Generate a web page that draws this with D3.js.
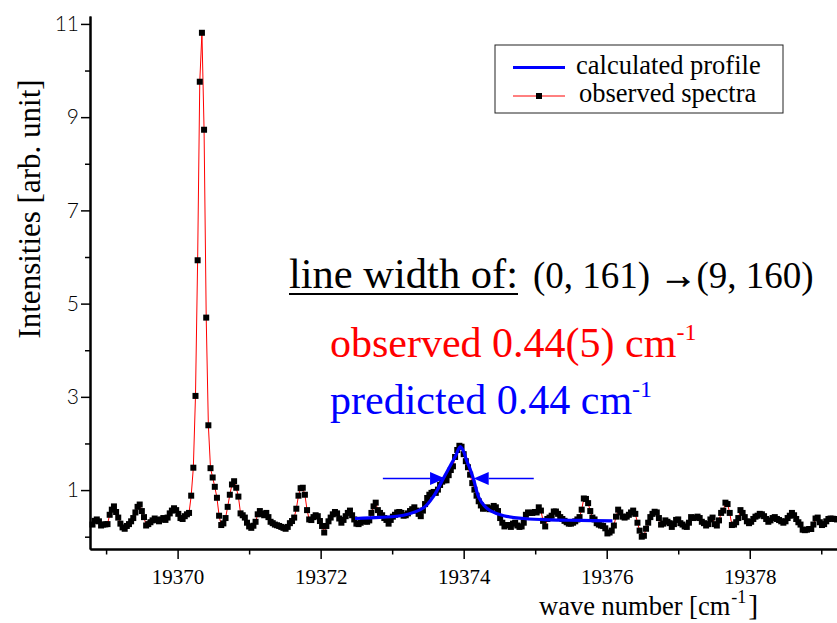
<!DOCTYPE html>
<html>
<head>
<meta charset="utf-8">
<script src="https://cdn.jsdelivr.net/npm/d3@7"></script>
<style>
  body { margin: 0; background: #fff; }
  svg { display: block; }
  .serif { font-family: "Liberation Serif", "Times New Roman", serif; }
</style>
</head>
<body>
<svg id="chart" width="837" height="623"></svg>
<script>
// Wavenumber axis ticks (cm^-1) and intensity axis ticks (arb. unit)
const xMajorTicks = [19370, 19372, 19374, 19376, 19378];
const xMinorTicks = [19369, 19371, 19373, 19375, 19377, 19379];
const yMajorTicks = [1, 3, 5, 7, 9, 11];
const yMinorTicks = [0, 2, 4, 6, 8, 10];

// Observed spectrum: sampled every 0.03 cm^-1 starting at 19368.81 cm^-1
const specStart = 19368.81;
const specStep = 0.03;
const observed = [
  0.26, 0.34, 0.37, 0.33, 0.24, 0.26, 0.265, 0.27, 0.47, 0.58,
  0.65, 0.53, 0.41, 0.28, 0.20, 0.17, 0.23, 0.27, 0.33, 0.40,
  0.52, 0.64, 0.69, 0.55, 0.42, 0.24, 0.27, 0.31, 0.35, 0.39,
  0.36, 0.33, 0.37, 0.40, 0.36, 0.41, 0.50, 0.56, 0.61, 0.57,
  0.49, 0.40, 0.38, 0.44, 0.48, 0.51, 0.88, 1.48, 3.02, 5.93,
  9.76, 10.81, 8.73, 4.70, 2.39, 1.47, 1.27, 1.07, 0.835, 0.45,
  0.25, 0.285, 0.40, 0.64, 0.90, 1.12, 1.19, 1.05, 0.86, 0.50,
  0.46, 0.41, 0.30, 0.22, 0.19, 0.235, 0.32, 0.48, 0.55, 0.49,
  0.46, 0.51, 0.42, 0.32, 0.29, 0.26, 0.245, 0.23, 0.21, 0.19,
  0.17, 0.21, 0.29, 0.336, 0.41, 0.60, 0.88, 1.04, 1.05, 0.90,
  0.57, 0.37, 0.357, 0.42, 0.46, 0.44, 0.336, 0.23, 0.09, 0.23,
  0.33, 0.41, 0.48, 0.53, 0.50, 0.39, 0.30, 0.36, 0.44, 0.51,
  0.56, 0.46, 0.37, 0.28, 0.27, 0.30, 0.34, 0.33, 0.32, 0.35,
  0.51, 0.65, 0.73, 0.57, 0.51, 0.46, 0.40, 0.36, 0.28, 0.36,
  0.43, 0.47, 0.52, 0.53, 0.51, 0.45, 0.46, 0.50, 0.55, 0.59,
  0.63, 0.56, 0.49, 0.44, 0.56, 0.70, 0.83, 0.90, 0.94, 0.96,
  0.94, 1.01, 1.11, 1.18, 1.21, 1.21, 1.32, 1.43, 1.51, 1.71,
  1.86, 1.95, 1.93, 1.77, 1.62, 1.49, 1.33, 1.15, 1.01, 0.88,
  0.76, 0.67, 0.60, 0.61, 0.63, 0.59, 0.61, 0.66, 0.63, 0.55,
  0.40, 0.30, 0.22, 0.25, 0.25, 0.21, 0.28, 0.30, 0.24, 0.21,
  0.22, 0.30, 0.47, 0.52, 0.51, 0.51, 0.53, 0.52, 0.63, 0.56,
  0.34, 0.22, 0.38, 0.41, 0.45, 0.54, 0.54, 0.49, 0.42, 0.38,
  0.34, 0.31, 0.28, 0.28, 0.30, 0.33, 0.37, 0.42, 0.58, 0.82,
  0.81, 0.72, 0.55, 0.41, 0.37, 0.29, 0.26, 0.24, 0.23, 0.18,
  0.07, 0.09, 0.13, 0.24, 0.43, 0.58, 0.52, 0.43, 0.41, 0.43,
  0.47, 0.52, 0.56, 0.49, 0.30, 0.13, 0.00, 0.02, 0.17, 0.30,
  0.42, 0.49, 0.535, 0.52, 0.40, 0.26, 0.28, 0.35, 0.32, 0.29,
  0.21, 0.27, 0.36, 0.37, 0.29, 0.26, 0.22, 0.21, 0.30, 0.42,
  0.40, 0.41, 0.43, 0.40, 0.32, 0.29, 0.24, 0.27, 0.37, 0.41,
  0.27, 0.24, 0.35, 0.51, 0.56, 0.73, 0.70, 0.51, 0.25, 0.26,
  0.31, 0.40, 0.57, 0.51, 0.42, 0.33, 0.29, 0.32, 0.38, 0.43,
  0.45, 0.49, 0.48, 0.44, 0.38, 0.32, 0.35, 0.40, 0.42, 0.38,
  0.357, 0.33, 0.30, 0.33, 0.40, 0.45, 0.51, 0.46, 0.38, 0.31,
  0.26, 0.15, 0.14, 0.15, 0.165, 0.165, 0.26, 0.39, 0.41, 0.31,
  0.25, 0.27, 0.33, 0.38, 0.39, 0.385, 0.38, 0.37
];

// Calculated line profile
const profileWn = [
  19372.48, 19372.83, 19373.16, 19373.44, 19373.58, 19373.72, 19373.83,
  19373.89, 19373.95, 19373.99, 19374.04, 19374.09, 19374.14, 19374.21,
  19374.29, 19374.37, 19374.56, 19374.84, 19375.19, 19375.63, 19376.08
];
const profileInt = [
  0.39, 0.415, 0.46, 0.62, 0.87, 1.26, 1.57,
  1.74, 1.93, 1.86, 1.64, 1.45, 1.22, 0.85,
  0.66, 0.56, 0.45, 0.39, 0.36, 0.35, 0.34
];

// Line-width marker arrows (wavenumber of tail and tip, height of the arrows)
const arrowLeft = [19372.87, 19373.74];
const arrowRight = [19374.98, 19374.14];
const arrowLevel = 1.25;

const svg = d3.select("#chart");

const x = d3.scaleLinear().domain([19368.775, 19379.22]).range([90, 837]);
const y = d3.scaleLinear().domain([-0.264, 11.17]).range([549, 16]);

// ---- axes ----
function styleAxis(g, w) {
  g.select(".domain").attr("stroke", "#000").attr("stroke-width", 2);
  g.selectAll(".tick line").attr("stroke", "#000").attr("stroke-width", w);
}

const yMinor = svg.append("g").attr("transform", "translate(90,0)")
  .call(d3.axisLeft(y).tickValues(yMinorTicks).tickSize(5).tickSizeOuter(0).tickFormat(""));
styleAxis(yMinor, 1.5);
const yMajor = svg.append("g").attr("transform", "translate(90,0)")
  .call(d3.axisLeft(y).tickValues(yMajorTicks).tickSize(9).tickSizeOuter(0).tickPadding(2));
styleAxis(yMajor, 1.5);
yMajor.selectAll(".tick text")
  .attr("fill", "#000")
  .style("font-family", "Lato, 'Open Sans', sans-serif")
  .style("font-weight", 300)
  .style("font-size", "21px");

const xMinor = svg.append("g").attr("transform", "translate(0,549)")
  .call(d3.axisBottom(x).tickValues(xMinorTicks).tickSize(5.5).tickSizeOuter(0).tickFormat(""));
styleAxis(xMinor, 1.5);
const xMajor = svg.append("g").attr("transform", "translate(0,549)")
  .call(d3.axisBottom(x).tickValues(xMajorTicks).tickSize(10).tickSizeOuter(0)
    .tickPadding(10).tickFormat(d3.format("d")));
styleAxis(xMajor, 1.5);
xMajor.selectAll(".tick text")
  .attr("fill", "#000")
  .attr("class", "serif")
  .style("font-size", "21px");

// axis titles
svg.append("text")
  .attr("class", "serif")
  .attr("transform", "translate(40,209) rotate(-90)")
  .attr("text-anchor", "middle")
  .style("font-size", "31px")
  .text("Intensities [arb. unit]");

const xt = svg.append("text")
  .attr("class", "serif")
  .attr("x", 539).attr("y", 615)
  .style("font-size", "26.5px");
xt.append("tspan").text("wave number [cm");
xt.append("tspan").attr("dx", 1).attr("dy", -12).style("font-size", "18px").text("-1");
xt.append("tspan").attr("dx", 2).attr("dy", 12).style("font-size", "30px").text("]");

// ---- data ----
const plot = svg.append("g");
const spec = observed.map((v, i) => [specStart + i * specStep, v]);

plot.append("path")
  .datum(spec)
  .attr("fill", "none")
  .attr("stroke", "#ff0000")
  .attr("stroke-width", 1)
  .attr("d", d3.line().x(d => x(d[0])).y(d => y(d[1])));

const ms = 6;
plot.selectAll("rect.pt")
  .data(spec)
  .join("rect")
  .attr("class", "pt")
  .attr("x", d => x(d[0]) - ms / 2)
  .attr("y", d => y(d[1]) - ms / 2)
  .attr("width", ms).attr("height", ms)
  .attr("fill", "#000");

const profile = profileWn.map((w, i) => [w, profileInt[i]]);
plot.append("path")
  .datum(profile)
  .attr("fill", "none")
  .attr("stroke", "#0000ff")
  .attr("stroke-width", 3.2)
  .attr("stroke-linejoin", "round")
  .attr("d", d3.line().curve(d3.curveCatmullRom.alpha(0.5)).x(d => x(d[0])).y(d => y(d[1])));

// line-width arrows
function arrow(tail, tip) {
  const yy = y(arrowLevel);
  const x0 = x(tail), x1 = x(tip);
  const dir = Math.sign(x1 - x0);
  const headLen = 15, headHalf = 6.5;
  plot.append("line")
    .attr("x1", x0).attr("y1", yy).attr("x2", x1 - dir * headLen).attr("y2", yy)
    .attr("stroke", "#0000ff").attr("stroke-width", 1.5);
  plot.append("path")
    .attr("d", `M${x1},${yy}L${x1 - dir * headLen},${yy - headHalf}L${x1 - dir * headLen},${yy + headHalf}Z`)
    .attr("fill", "#0000ff");
}
arrow(arrowLeft[0], arrowLeft[1]);
arrow(arrowRight[0], arrowRight[1]);

// ---- legend ----
const lg = svg.append("g");
lg.append("rect")
  .attr("x", 495).attr("y", 45).attr("width", 288).attr("height", 68)
  .attr("fill", "#fff").attr("stroke", "#222").attr("stroke-width", 1);
lg.append("line")
  .attr("x1", 513).attr("x2", 565).attr("y1", 67.5).attr("y2", 67.5)
  .attr("stroke", "#0000ff").attr("stroke-width", 3);
lg.append("text").attr("class", "serif")
  .attr("x", 576).attr("y", 74).style("font-size", "26.5px")
  .text("calculated profile");
lg.append("line")
  .attr("x1", 513).attr("x2", 565).attr("y1", 96).attr("y2", 96)
  .attr("stroke", "#ff0000").attr("stroke-width", 1);
lg.append("rect")
  .attr("x", 539 - ms / 2).attr("y", 96 - ms / 2).attr("width", ms).attr("height", ms)
  .attr("fill", "#000");
lg.append("text").attr("class", "serif")
  .attr("x", 579).attr("y", 102).style("font-size", "26.5px")
  .text("observed spectra");

// ---- annotation ----
const head = svg.append("text").attr("class", "serif")
  .attr("x", 289).attr("y", 288).style("font-size", "42.5px")
  .text("line width of:");
const hb = head.node().getBBox();
svg.append("line")
  .attr("x1", hb.x).attr("x2", hb.x + hb.width)
  .attr("y1", 294).attr("y2", 294)
  .attr("stroke", "#000").attr("stroke-width", 2);

const trans = svg.append("text").attr("class", "serif")
  .attr("x", 533).attr("y", 288).style("font-size", "37px");
trans.append("tspan").text("(0, 161) ");
trans.append("tspan")
  .attr("stroke", "#000").attr("stroke-width", 0.8)
  .text("\u2192");
trans.append("tspan").text("(9, 160)");

const obs = svg.append("text").attr("class", "serif")
  .attr("x", 330).attr("y", 357).attr("fill", "#ff0000").style("font-size", "42px");
obs.append("tspan").text("observed 0.44(5) cm");
obs.append("tspan").attr("dy", -17).style("font-size", "24px").text("-1");

const pred = svg.append("text").attr("class", "serif")
  .attr("x", 330).attr("y", 414).attr("fill", "#0000ff").style("font-size", "42px");
pred.append("tspan").text("predicted 0.44 cm");
pred.append("tspan").attr("dy", -17).style("font-size", "24px").text("-1");
</script>
</body>
</html>
